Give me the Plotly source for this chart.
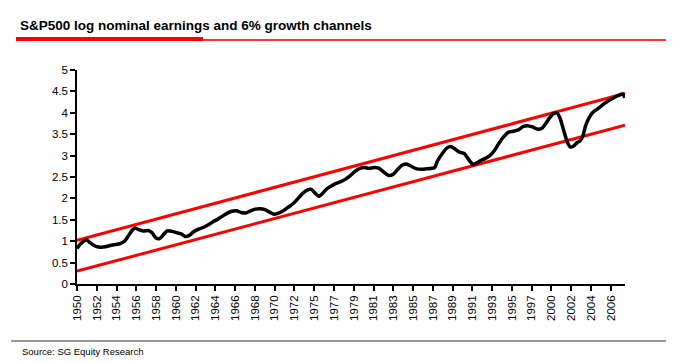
import plotly.graph_objects as go

# ---- data ----
title_text = "<b>S&P500 log nominal earnings and 6% growth channels</b>"
source_text = "Source: SG Equity Research"

tick_labels = ["1950", "1952", "1954", "1956", "1958", "1960", "1962", "1964",
               "1966", "1968", "1970", "1972", "1975", "1977", "1979", "1981",
               "1983", "1985", "1987", "1989", "1991", "1993", "1995", "1997",
               "2000", "2002", "2004", "2006"]
label_step_months = 25

years = [1950.0, 1950.3, 1950.7, 1951.0, 1951.3, 1951.7, 1952.0, 1952.5, 1953.0, 1953.5,
         1954.0, 1954.5, 1955.0, 1955.4, 1955.8, 1956.1, 1956.5, 1957.0, 1957.5, 1957.9,
         1958.3, 1958.7, 1959.1, 1959.5, 1960.0, 1960.5, 1961.0, 1961.4, 1961.8, 1962.3,
         1962.8, 1963.3, 1963.8, 1964.3, 1964.8, 1965.3, 1965.8, 1966.3, 1966.8, 1967.3,
         1967.8, 1968.3, 1968.8, 1969.3, 1969.8, 1970.3, 1970.8, 1971.3, 1971.8, 1972.3,
         1972.8, 1973.3, 1973.8, 1974.3, 1974.7, 1975.1, 1975.5, 1975.9, 1976.3, 1976.8,
         1977.3, 1977.8, 1978.3, 1978.8, 1979.3, 1979.8, 1980.3, 1980.8, 1981.3, 1981.8,
         1982.3, 1982.8, 1983.3, 1983.8, 1984.3, 1984.8, 1985.3, 1985.8, 1986.3, 1986.8,
         1987.3, 1987.7, 1988.0, 1988.5, 1989.0, 1989.4, 1989.8, 1990.3, 1990.8, 1991.3,
         1991.7, 1992.0, 1992.5, 1993.0, 1993.5, 1994.0, 1994.5, 1995.0, 1995.5, 1996.0,
         1996.5, 1997.0, 1997.5, 1998.0, 1998.5, 1999.0, 1999.4, 1999.8, 2000.2, 2000.6,
         2000.9, 2001.3, 2001.7, 2002.0, 2002.3, 2002.7, 2003.0, 2003.3, 2003.6, 2004.0,
         2004.4, 2004.8, 2005.2, 2005.6, 2006.0, 2006.4, 2006.8, 2007.2, 2007.5, 2007.75]
log_earnings = [0.83, 0.92, 1.00, 1.03, 0.98, 0.91, 0.88, 0.86, 0.87, 0.90,
                0.92, 0.94, 1.00, 1.12, 1.25, 1.31, 1.27, 1.24, 1.25, 1.20,
                1.08, 1.06, 1.15, 1.24, 1.23, 1.20, 1.17, 1.11, 1.13, 1.22,
                1.28, 1.32, 1.38, 1.45, 1.51, 1.58, 1.65, 1.70, 1.71, 1.67,
                1.66, 1.71, 1.75, 1.76, 1.74, 1.68, 1.63, 1.66, 1.72, 1.80,
                1.88, 2.00, 2.12, 2.20, 2.21, 2.12, 2.05, 2.12, 2.22, 2.29,
                2.35, 2.39, 2.45, 2.53, 2.63, 2.70, 2.72, 2.70, 2.72, 2.71,
                2.62, 2.54, 2.56, 2.68, 2.78, 2.80, 2.74, 2.69, 2.68, 2.69,
                2.70, 2.72, 2.88, 3.05, 3.18, 3.21, 3.16, 3.08, 3.05, 2.90,
                2.80, 2.81, 2.88, 2.93, 3.00, 3.12, 3.30, 3.45, 3.55, 3.57,
                3.60, 3.68, 3.70, 3.67, 3.62, 3.64, 3.75, 3.88, 3.98, 3.99,
                3.88, 3.58, 3.30, 3.20, 3.22, 3.30, 3.34, 3.45, 3.70, 3.90,
                4.02, 4.08, 4.15, 4.22, 4.28, 4.33, 4.38, 4.42, 4.44, 4.35]

channel_years = [1950.0, 2007.75]
upper_channel = [1.02, 4.45]
lower_channel = [0.30, 3.71]

y_ticks = [0, 0.5, 1, 1.5, 2, 2.5, 3, 3.5, 4, 4.5, 5]
y_tick_labels = ["0", "0.5", "1", "1.5", "2", "2.5", "3", "3.5", "4", "4.5", "5"]

# ---- layout geometry (pixels) ----
W, H = 680, 362
L, R, T, B = 69, 63, 62, 86
pw, ph = W - L - R, H - T - B


def px(x):
    return (x - L) / pw


def py(y):
    return (H - B - y) / ph


tick_positions = [1950 + k * label_step_months / 12 for k in range(len(tick_labels))]

FONT = "Liberation Sans, Arial, sans-serif"

fig = go.Figure()
fig.add_trace(go.Scatter(x=channel_years, y=upper_channel, mode="lines",
                         line=dict(color="#ff0000", width=3), hoverinfo="skip"))
fig.add_trace(go.Scatter(x=channel_years, y=lower_channel, mode="lines",
                         line=dict(color="#ff0000", width=3), hoverinfo="skip"))
fig.add_trace(go.Scatter(x=years, y=log_earnings, mode="lines",
                         line=dict(color="#000000", width=3.5, shape="spline", smoothing=0.6)))

fig.update_layout(
    width=W, height=H, autosize=False,
    margin=dict(l=L, r=R, t=T, b=B, pad=0),
    paper_bgcolor="white", plot_bgcolor="white",
    showlegend=False,
    font=dict(family=FONT, size=11.5, color="#000000"),
    xaxis=dict(range=[1950, 2007.75], tickmode="array", tickvals=tick_positions,
               ticktext=tick_labels, tickangle=-90, showgrid=False, zeroline=False,
               showline=True, linecolor="#000000", linewidth=1.5,
               ticks="outside", ticklen=5, tickcolor="#000000", tickwidth=1.5,
               tickfont=dict(size=11.5, family=FONT), fixedrange=True),
    yaxis=dict(range=[0, 5], tickmode="array", tickvals=y_ticks, ticktext=y_tick_labels,
               showgrid=False, zeroline=False, showline=True, linecolor="#000000",
               linewidth=1.5, ticks="outside", ticklen=5, tickcolor="#000000",
               tickwidth=1.5, tickfont=dict(size=11.5, family=FONT), fixedrange=True),
    shapes=[
        dict(type="line", xref="paper", yref="paper", x0=px(8), x1=px(195),
             y0=py(31), y1=py(31), line=dict(color="#ff0000", width=4)),
        dict(type="line", xref="paper", yref="paper", x0=px(195), x1=px(658),
             y0=py(32), y1=py(32), line=dict(color="#ff3333", width=2)),
        dict(type="line", xref="paper", yref="paper", x0=px(3), x1=px(658),
             y0=py(333), y1=py(333), line=dict(color="#999999", width=2)),
    ],
    annotations=[
        dict(text=title_text, xref="paper", yref="paper", x=px(10), y=py(18),
             xanchor="left", yanchor="middle", showarrow=False,
             font=dict(size=13.5, family=FONT, color="#000000")),
        dict(text=source_text, xref="paper", yref="paper", x=px(12), y=py(343),
             xanchor="left", yanchor="middle", showarrow=False,
             font=dict(size=9.5, family=FONT, color="#000000")),
    ],
)

fig.write_html("out.html")
